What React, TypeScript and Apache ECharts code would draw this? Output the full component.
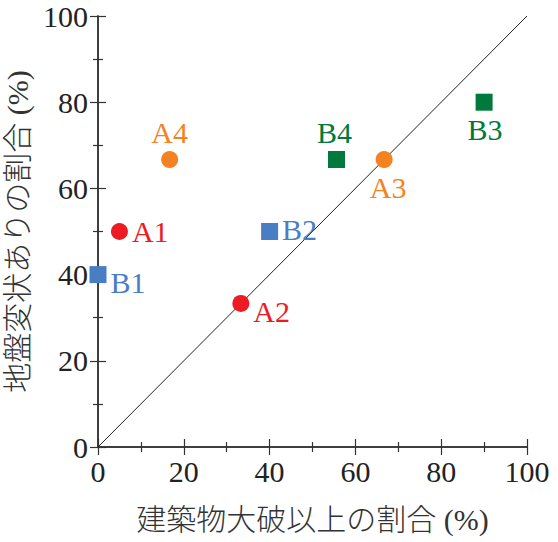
import React, { useEffect, useRef } from "react";
import * as echarts from "echarts";

const pointNames = ["A1", "A2", "A3", "A4", "B1", "B2", "B3", "B4"];
const xValues = [5, 33.3, 66.7, 16.7, 0, 40, 90, 55.6];
const yValues = [50, 33.3, 66.7, 66.7, 40, 50, 80, 66.7];
const xTitle = "建築物大破以上の割合 (%)";
const yTitle = "地盤変状ありの割合 (%)";

const RED = "#ED1C24";
const ORANGE = "#F58220";
const BLUE = "#4A7EC4";
const GREEN = "#007A3C";

const styleMap: Record<string, any> = {
  A1: { color: RED, symbol: "circle", pos: "right", offset: [0, 0] },
  A2: { color: RED, symbol: "circle", pos: "right", offset: [0, 8] },
  A3: { color: ORANGE, symbol: "circle", pos: "bottom", offset: [4, 0] },
  A4: { color: ORANGE, symbol: "circle", pos: "top", offset: [0, 0] },
  B1: { color: BLUE, symbol: "rect", pos: "right", offset: [0, 8] },
  B2: { color: BLUE, symbol: "rect", pos: "right", offset: [0, -2] },
  B3: { color: GREEN, symbol: "rect", pos: "bottom", offset: [1, 0] },
  B4: { color: GREEN, symbol: "rect", pos: "top", offset: [-2, 0] },
};

const SERIF = "'Liberation Serif', 'Times New Roman', serif";
const TITLE_FONT = "'Liberation Serif', 'Noto Sans CJK JP', serif";
const AXIS_COLOR = "#333";

export default function App() {
  const ref = useRef<HTMLDivElement>(null);
  useEffect(() => {
    const chart = echarts.init(ref.current!, undefined, { renderer: "svg" });
    const baseAxis = {
      min: 0,
      max: 100,
      interval: 20,
      axisLine: { show: true, lineStyle: { color: AXIS_COLOR, width: 1.5 } },
      axisTick: { show: true, inside: true, length: 8, lineStyle: { color: AXIS_COLOR, width: 1.2 } },
      minorTick: { show: true, splitNumber: 2, length: 5, lineStyle: { color: AXIS_COLOR, width: 1.2 } },
      splitLine: { show: false },
    };
    const data = pointNames.map((n, i) => {
      const s = styleMap[n];
      return {
        name: n,
        value: [xValues[i], yValues[i]],
        symbol: s.symbol,
        symbolSize: 17,
        itemStyle: { color: s.color, opacity: 1 },
        label: {
          show: true,
          formatter: n,
          position: s.pos,
          offset: s.offset,
          distance: 4,
          color: s.color,
          fontFamily: SERIF,
          fontSize: 30,
        },
      };
    });
    chart.setOption({
      animation: false,
      grid: { left: 98, top: 16, right: 31, bottom: 95, containLabel: false, outerBoundsMode: "none" },
      xAxis: [
        {
          ...baseAxis,
          type: "value",
          position: "bottom",
          name: xTitle,
          nameLocation: "middle",
          nameGap: 57,
          nameTextStyle: { fontFamily: TITLE_FONT, fontSize: 30, fontWeight: 300, color: "#333" },
          axisLabel: { fontFamily: SERIF, fontSize: 30, color: "#222", margin: 9 },
        },
        {
          ...baseAxis,
          type: "value",
          position: "top",
          axisLabel: { show: false },
        },
      ],
      yAxis: [
        {
          ...baseAxis,
          type: "value",
          position: "left",
          name: yTitle,
          nameLocation: "middle",
          nameGap: 54,
          nameTextStyle: { fontFamily: TITLE_FONT, fontSize: 30, fontWeight: 300, color: "#333" },
          axisLabel: { fontFamily: SERIF, fontSize: 30, color: "#222", margin: 10 },
        },
        {
          ...baseAxis,
          type: "value",
          position: "right",
          axisLabel: { show: false },
        },
      ],
      series: [
        {
          type: "line",
          data: [[0, 0], [100, 100]],
          symbol: "none",
          lineStyle: { color: "#222", width: 1 },
          silent: true,
          z: 1,
        },
        {
          type: "scatter",
          data,
          z: 3,
        },
      ],
    });
    return () => chart.dispose();
  }, []);
  return (
    <div
      ref={ref}
      style={{ position: "absolute", left: 0, top: 0, width: 558, height: 542 }}
    />
  );
}
